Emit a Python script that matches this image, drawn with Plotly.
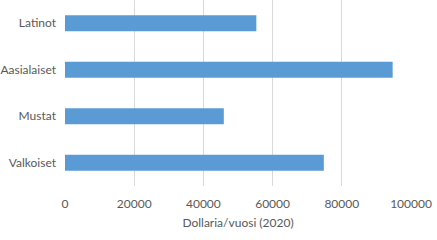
import plotly.graph_objects as go

categories = ["Valkoiset", "Mustat", "Aasialaiset", "Latinot"]
values = [74800, 45900, 94700, 55300]
tick_vals = [0, 20000, 40000, 60000, 80000, 100000]
tick_text = ["0", "20000", "40000", "60000", "80000", "100000"]

fig = go.Figure(go.Bar(
    x=values, y=categories, orientation="h",
    marker=dict(color="#5B9BD5", line=dict(width=0)),
    width=0.345,
))
fig.update_layout(
    width=437, height=240,
    margin=dict(l=65, r=26, t=0, b=54),
    paper_bgcolor="white", plot_bgcolor="white",
    font=dict(family="Lato, Open Sans, Liberation Sans", size=12, color="#595959"),
    showlegend=False,
)
fig.update_xaxes(
    range=[0, 100000], tickvals=tick_vals, ticktext=tick_text,
    showgrid=True, gridcolor="#D9D9D9", gridwidth=1,
    zeroline=False, showline=False, ticks="",
    ticklabelstandoff=9, automargin=False,
    title=dict(text="Dollaria/vuosi (2020)", standoff=8, font=dict(size=12)),
)
fig.update_yaxes(
    showgrid=False, zeroline=False, showline=False, ticks="",
    ticklabelstandoff=8, range=[-0.5, 3.5], automargin=False,
)
fig.write_html("out.html")
